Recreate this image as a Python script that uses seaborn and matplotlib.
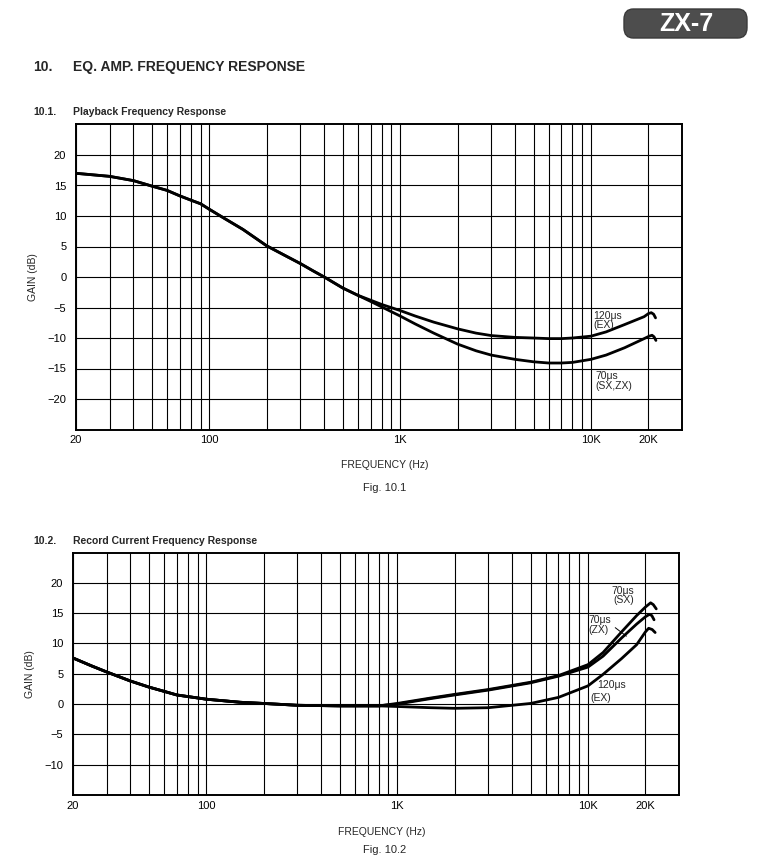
"""EQ amp frequency response charts (ZX-7 service sheet)."""

import matplotlib

matplotlib.use("Agg")
import matplotlib.pyplot as plt
import numpy as np
import pandas as pd
import seaborn as sns
from matplotlib.patches import FancyBboxPatch
from matplotlib.ticker import FixedLocator, LogLocator, NullFormatter

# ---- data -------------------------------------------------------------------
# Fig 10.1 playback response
pb_ex_freq = [20, 30, 40, 50, 60, 70, 80, 90, 100, 120, 150, 200, 250, 300, 350, 400, 500, 600,
              700, 800, 1000, 1200, 1500, 2000, 2500, 3000, 4000, 5000, 6000, 7000, 8000,
              10000, 12000, 15000, 19000, 20000, 20700, 21300, 21800]
pb_ex_gain = [17.0, 16.5, 15.8, 14.9, 14.2, 13.3, 12.6, 12.0, 11.1, 9.6, 7.8, 5.1, 3.5, 2.2, 1.0, 0.0,
              -1.8, -3.0, -3.8, -4.5, -5.5, -6.4, -7.4, -8.5, -9.2, -9.6, -9.9, -10.0, -10.1, -10.1,
              -10.0, -9.7, -9.0, -7.8, -6.5, -6.0, -5.85, -6.1, -6.7]

pb_70_freq = [20, 30, 40, 50, 60, 70, 80, 90, 100, 120, 150, 200, 250, 300, 350, 400, 500, 600,
              700, 800, 1000, 1200, 1500, 2000, 2500, 3000, 4000, 5000, 6000, 7000, 8000,
              10000, 12000, 15000, 19000, 20200, 20900, 21400, 21900]
pb_70_gain = [17.0, 16.5, 15.8, 14.9, 14.2, 13.3, 12.6, 12.0, 11.1, 9.6, 7.8, 5.1, 3.5, 2.2, 1.0, 0.0,
              -1.8, -3.0, -4.0, -4.9, -6.4, -7.7, -9.2, -11.0, -12.1, -12.8, -13.5, -13.9, -14.1,
              -14.1, -14.0, -13.5, -12.8, -11.6, -10.1, -9.7, -9.55, -9.8, -10.4]

# Fig 10.2 record current response
rc_sx_freq = [20, 25, 30, 40, 50, 60, 70, 100, 150, 200, 300, 500, 800, 1000, 1500, 2000, 3000,
              5000, 7000, 10000, 12000, 15000, 18000, 20000, 21300, 22000, 22800]
rc_sx_gain = [7.6, 6.3, 5.3, 3.8, 2.8, 2.1, 1.5, 0.8, 0.3, 0.1, -0.2, -0.3, -0.3, 0.1, 1.0, 1.6, 2.4,
              3.6, 4.7, 6.5, 8.5, 11.9, 14.6, 16.0, 16.7, 16.4, 15.7]

rc_zx_freq = [20, 25, 30, 40, 50, 60, 70, 100, 150, 200, 300, 500, 800, 1000, 1500, 2000, 3000,
              5000, 7000, 10000, 12000, 15000, 18000, 20000, 21000, 21600, 22200]
rc_zx_gain = [7.6, 6.3, 5.3, 3.8, 2.8, 2.1, 1.5, 0.8, 0.3, 0.1, -0.2, -0.3, -0.3, 0.0, 0.9, 1.5, 2.3,
              3.5, 4.6, 6.1, 7.9, 10.9, 13.2, 14.4, 14.8, 14.6, 13.9]

rc_ex_freq = [20, 25, 30, 40, 50, 60, 70, 100, 150, 200, 300, 500, 800, 1000, 1500, 2000, 3000,
              5000, 7000, 10000, 12000, 15000, 18000, 20000, 20800, 21700, 22500]
rc_ex_gain = [7.6, 6.3, 5.3, 3.8, 2.8, 2.1, 1.5, 0.8, 0.3, 0.1, -0.2, -0.3, -0.3, -0.4, -0.6, -0.7,
              -0.6, 0.1, 1.1, 3.0, 4.9, 7.5, 9.8, 11.9, 12.5, 12.3, 11.8]

freq_ticks = [20, 100, 1000, 10000, 20000]
freq_labels = ["20", "100", "1K", "10K", "20K"]
pb_gain_ticks = [20, 15, 10, 5, 0, -5, -10, -15, -20]
rc_gain_ticks = [20, 15, 10, 5, 0, -5, -10]

W, H = 771, 859

sns.set_theme(style="white")
plt.rcParams["font.family"] = ["Liberation Sans", "DejaVu Sans"]


def px(x, y):
    return x / W, 1 - y / H


def long_df(curves):
    rows = []
    for name, f, g in curves:
        rows.append(pd.DataFrame({"freq": f, "gain": g, "curve": name}))
    return pd.concat(rows, ignore_index=True)


def style_axes(ax, ymin, ymax, yticks, ylab_x, xlab_xy):
    ax.set_xscale("log")
    ax.set_xlim(20, 30000)
    ax.set_ylim(ymin, ymax)
    ax.xaxis.set_major_locator(FixedLocator(freq_ticks))
    ax.set_xticklabels(freq_labels)
    ax.xaxis.set_minor_locator(LogLocator(base=10, subs=np.arange(2, 10)))
    ax.xaxis.set_minor_formatter(NullFormatter())
    ax.set_yticks(yticks)
    ax.set_yticklabels([str(t).replace("-", "\u2212") for t in yticks])
    ax.grid(True, which="both", axis="x", color="black", lw=0.8)
    ax.grid(True, which="major", axis="y", color="black", lw=0.8)
    ax.tick_params(which="both", length=0, labelsize=8, colors="black")
    ax.tick_params(axis="x", pad=4)
    ax.tick_params(axis="y", pad=7)
    for s in ax.spines.values():
        s.set_color("black")
        s.set_linewidth(1.4)
    ax.set_xlabel("FREQUENCY (Hz)", fontsize=7.5)
    ax.set_ylabel("GAIN (dB)", fontsize=7.5)
    ax.yaxis.set_label_coords(ylab_x, 0.5)
    ax.xaxis.set_label_coords(*xlab_xy)


fig = plt.figure(figsize=(W / 100, H / 100), dpi=100)
fig.patch.set_facecolor("white")

# badge top right
bx0, by0 = px(624, 38)
badge = FancyBboxPatch((bx0, by0), 123 / W, 29 / H, boxstyle="round,pad=0,rounding_size=0.012",
                       transform=fig.transFigure, facecolor="#4d4d4d", edgecolor="#3a3a3a", lw=1)
fig.patches.append(badge)
fig.text(*px(686, 24), "ZX-7", color="white", fontsize=18, fontweight="bold",
         ha="center", va="center")

# headings
fig.text(*px(33, 67), "10.", fontsize=10, fontweight="bold", va="center")
fig.text(*px(73, 67), "EQ. AMP. FREQUENCY RESPONSE", fontsize=10, fontweight="bold", va="center")
fig.text(*px(33, 112), "10.1.", fontsize=7.5, fontweight="bold", va="center")
fig.text(*px(73, 112), "Playback Frequency Response", fontsize=7.5, fontweight="bold", va="center")
fig.text(*px(33, 541), "10.2.", fontsize=7.5, fontweight="bold", va="center")
fig.text(*px(73, 541), "Record Current Frequency Response", fontsize=7.5, fontweight="bold",
         va="center")

# ---- Fig 10.1 ---------------------------------------------------------------
ax1 = fig.add_axes([76 / W, 1 - 429.5 / H, 606 / W, 305 / H])
df1 = long_df([("120us (EX)", pb_ex_freq, pb_ex_gain), ("70us (SX,ZX)", pb_70_freq, pb_70_gain)])
sns.lineplot(data=df1, x="freq", y="gain", hue="curve", units="curve", estimator=None, sort=False,
             palette={"120us (EX)": "black", "70us (SX,ZX)": "black"}, lw=2.0, legend=False, ax=ax1)
style_axes(ax1, -25, 25, pb_gain_ticks, -0.062, (0.51, -0.1))
ax1.text(10300, -5.5, "120\u03bcs\n(EX)", fontsize=7.5, va="top", ha="left", linespacing=0.95)
ax1.text(10500, -15.4, "70\u03bcs\n(SX,ZX)", fontsize=7.5, va="top", ha="left", linespacing=0.95)
fig.text(*px(385, 488), "Fig. 10.1", fontsize=8, ha="center", va="center")

# ---- Fig 10.2 ---------------------------------------------------------------
ax2 = fig.add_axes([73 / W, 1 - 795 / H, 606 / W, 242.5 / H])
df2 = long_df([("70us (SX)", rc_sx_freq, rc_sx_gain), ("70us (ZX)", rc_zx_freq, rc_zx_gain),
               ("120us (EX)", rc_ex_freq, rc_ex_gain)])
sns.lineplot(data=df2, x="freq", y="gain", hue="curve", units="curve", estimator=None, sort=False,
             palette={"70us (SX)": "black", "70us (ZX)": "black", "120us (EX)": "black"},
             lw=2.0, legend=False, ax=ax2)
style_axes(ax2, -15, 25, rc_gain_ticks, -0.062, (0.51, -0.13))
ax2.text(17400, 19.5, "70\u03bcs\n(SX)", fontsize=7.5, va="top", ha="right", linespacing=0.95,
         multialignment="right")
ax2.text(10100, 14.7, "70\u03bcs\n(ZX)", fontsize=7.5, va="top", ha="left", linespacing=0.95)
ax2.plot([13900, 15900], [12.6, 11.2], color="black", lw=0.7)
ax2.text(11200, 4.0, "120\u03bcs", fontsize=7.5, va="top", ha="left")
ax2.text(10300, 1.8, "(EX)", fontsize=7.5, va="top", ha="left")
fig.text(*px(385, 850), "Fig. 10.2", fontsize=8, ha="center", va="center")

fig.savefig("out.png", dpi=100)
